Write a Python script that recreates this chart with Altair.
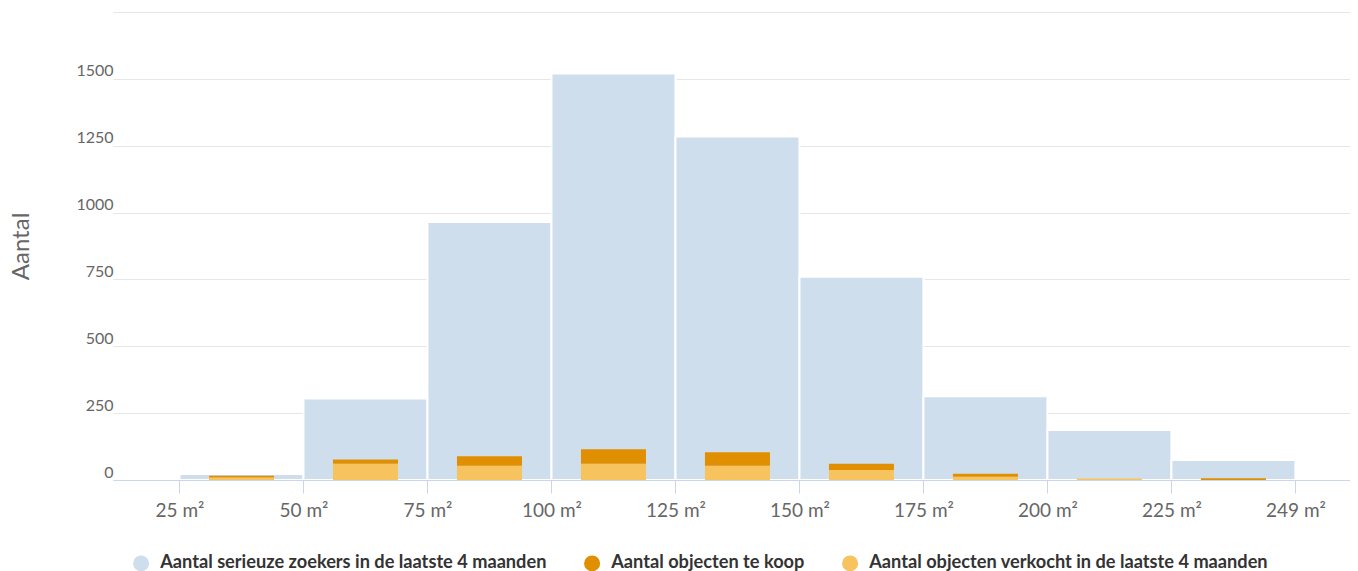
import altair as alt
import pandas as pd

# ---- data ----
bin_start = [25, 50, 75, 100, 125, 150, 175, 200, 225]
bin_end = [50, 75, 100, 125, 150, 175, 200, 225, 250]
zoekers = [22, 305, 965, 1520, 1284, 760, 313, 187, 75]
te_koop = [7, 16, 36, 54, 51, 24, 11, 0, 7]
verkocht = [9, 61, 53, 61, 53, 37, 12, 6, 0]

tick_values = [25, 50, 75, 100, 125, 150, 175, 200, 225, 250]
tick_labels = ["25 m²", "50 m²", "75 m²", "100 m²", "125 m²", "150 m²",
               "175 m²", "200 m²", "225 m²", "249 m²"]
y_values = [0, 250, 500, 750, 1000, 1250, 1500, 1750]

series_names = [
    "Aantal serieuze zoekers in de laatste 4 maanden",
    "Aantal objecten te koop",
    "Aantal objecten verkocht in de laatste 4 maanden",
]
series_colors = ["#cfdeec", "#e08f00", "#f7c35f"]

FONT = "Lato"

# ---- tables ----
df_blue = pd.DataFrame({
    "start": bin_start,
    "end": bin_end,
    "value": zoekers,
    "series": series_names[0],
})

rows = []
for s, e, k, v in zip(bin_start, bin_end, te_koop, verkocht):
    mid = (s + e) / 2
    rows.append({"mid": mid, "value": v, "series": series_names[2], "ord": 0})
    rows.append({"mid": mid, "value": k, "series": series_names[1], "ord": 1})
df_orange = pd.DataFrame(rows)

# label expression for the x axis
x_label_expr = "''"
for v, lab in reversed(list(zip(tick_values, tick_labels))):
    x_label_expr = f"datum.value == {v} ? '{lab}' : ({x_label_expr})"

x_scale = alt.Scale(domain=[12.6, 260], nice=False, zero=False)
y_scale = alt.Scale(domain=[0, 1750], nice=False)

color = alt.Color(
    "series:N",
    scale=alt.Scale(domain=series_names, range=series_colors),
    legend=alt.Legend(
        orient="none", legendX=19, legendY=542, direction="horizontal",
        title=None, symbolType="circle", symbolSize=256, symbolStrokeWidth=0,
        symbolOpacity=1, labelFontSize=18.2, labelFontWeight="bold",
        labelColor="#333333", labelOffset=10, columnPadding=36,
        labelLimit=600, labelFont=FONT, padding=0, offset=0,
    ),
)

blue = alt.Chart(df_blue).mark_bar(
    stroke="white", strokeWidth=2, orient="vertical"
).encode(
    x=alt.X(
        "start:Q", scale=x_scale, title=None,
        axis=alt.Axis(
            values=tick_values, labelExpr=x_label_expr, grid=False,
            domainColor="#ccd6eb", domainWidth=1, tickColor="#ccd6eb",
            tickSize=13, tickWidth=1, labelFontSize=19, labelColor="#666666",
            labelPadding=8, labelFont=FONT, zindex=1,
        ),
    ),
    x2="end:Q",
    y=alt.Y(
        "value:Q", scale=y_scale,
        axis=alt.Axis(
            values=y_values, format="d",
            labelExpr="datum.value == 1750 ? '' : datum.label",
            domain=False, ticks=False, labelPadding=0, labelAlign="right",
            labelBaseline="alphabetic", labelOffset=-3, labelFontSize=16,
            labelColor="#666666", labelFont=FONT, gridColor="#e6e6e6",
            gridWidth=1, title="Aantal", titleFontSize=24,
            titleColor="#666666", titleFontWeight="normal", titleFont=FONT,
            titleX=-85, titleY=234, titleAngle=270, titleAlign="center",
            titleBaseline="alphabetic",
        ),
    ),
    y2=alt.datum(0),
    color=color,
)

orange = alt.Chart(df_orange).mark_bar(size=65).encode(
    x=alt.X("mid:Q", scale=x_scale),
    y=alt.Y("value:Q", stack="zero", scale=y_scale),
    color=color,
    order=alt.Order("ord:Q"),
)

chart = alt.layer(blue, orange).properties(
    width=1237,
    height=468,
    autosize=alt.AutoSizeParams(type="none"),
    padding={"left": 105, "top": 4, "right": 0, "bottom": 96},
).configure(font=FONT, view=alt.ViewConfig(stroke=None))

chart.save("out.html", embed_options={"renderer": "svg", "actions": False})
